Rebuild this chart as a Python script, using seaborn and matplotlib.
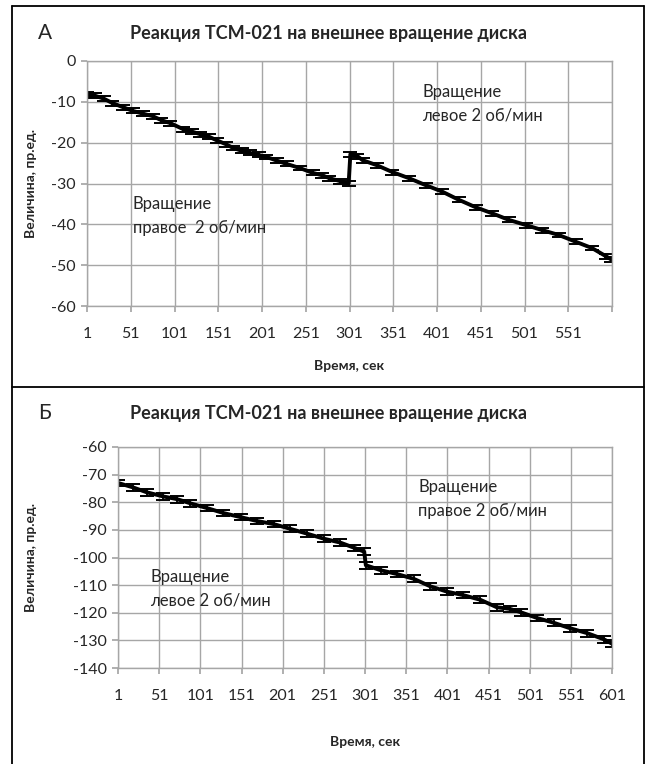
import matplotlib
import matplotlib.pyplot as plt
import seaborn as sns
from matplotlib.lines import Line2D

matplotlib.use("agg")
sns.set_theme(style="whitegrid")
plt.rcParams["font.family"] = ["Lato", "DejaVu Sans"]
plt.rcParams["axes.unicode_minus"] = False

# Panel A: time (s) and value
time_a = [1, 10, 20, 30, 42, 53, 65, 76, 86, 96, 111, 121, 130, 140, 149, 160, 168, 178, 187, 197,
          206, 218, 229, 244, 259, 270, 278, 290, 300, 302, 310, 316, 332, 350, 369, 388, 407, 426,
          445, 464, 483, 503, 521, 540, 560, 578, 594, 600]
value_a = [-8.2, -8.5, -9.2, -10.3, -11.3, -12.2, -12.9, -13.5, -14.5, -15.2, -16.7, -17.3, -17.9,
           -18.5, -19.4, -20.4, -21.3, -22.0, -22.5, -23.0, -23.5, -24.4, -25.2, -26.2, -27.4, -28.0,
           -28.7, -29.4, -30.0, -22.8, -23.3, -24.3, -25.5, -27.2, -28.7, -30.4, -32.0, -34.0, -35.8,
           -37.3, -38.9, -40.2, -41.4, -42.6, -44.3, -45.8, -47.8, -48.6]
err_a = 0.6

# Panel B
time_b = [1, 19, 36, 56, 73, 89, 109, 129, 150, 170, 190, 210, 231, 251, 271, 288, 300, 302, 320,
          340, 360, 380, 401, 420, 441, 461, 477, 490, 510, 530, 550, 571, 591, 601]
value_b = [-73.0, -74.6, -76.4, -77.9, -78.9, -80.4, -82.1, -83.9, -85.4, -86.8, -87.9, -89.6,
           -91.4, -93.2, -94.6, -96.5, -97.9, -102.8, -104.6, -106.0, -107.7, -110.4, -112.4,
           -113.6, -115.3, -118.0, -118.6, -119.8, -121.9, -123.6, -125.6, -127.4, -129.6, -131.2]
err_b = 1.2

xticks = list(range(1, 602, 50))
title = "Реакция ТСМ-021 на внешнее вращение диска"

fig = plt.figure(figsize=(6.48, 7.64), dpi=100)
W, H = 648, 764


def px(x0, y0, x1, y1):
    # pixel box -> figure rect
    return [x0 / W, 1 - y1 / H, (x1 - x0) / W, (y1 - y0) / H]


def draw_panel(rect, t, v, err, ylim, yticks, xlabels):
    ax = fig.add_axes(rect)
    sns.lineplot(x=t, y=v, ax=ax, color="black", linewidth=2.8)
    ax.errorbar(t, v, yerr=err, fmt="none", ecolor="black", elinewidth=1.3, capsize=5, capthick=1.4)
    ax.set_xlim(1, 601)
    ax.set_ylim(*ylim)
    ax.set_xticks(xticks)
    ax.set_xticklabels(xlabels)
    ax.set_yticks(yticks)
    ax.grid(True, color="#a6a6a6", linewidth=1)
    ax.set_facecolor("white")
    for s in ax.spines.values():
        s.set_color("#a6a6a6")
        s.set_linewidth(1)
    ax.tick_params(axis="both", length=4, color="#a6a6a6", labelsize=11.5)
    ax.tick_params(axis="x", direction="out", bottom=True, pad=11)
    ax.tick_params(axis="y", direction="out", left=True, pad=4)
    ax.set_xlabel("Время, сек", fontsize=10, fontweight="bold", labelpad=14)
    ax.set_ylabel("Величина, пр.ед.", fontsize=10, fontweight="bold")
    return ax


ax_a = draw_panel(px(87, 61, 612, 306), time_a, value_a, err_a, (-60, 0), range(-60, 1, 10),
                  [str(x) for x in xticks[:-1]] + [""])
ax_a.yaxis.set_label_coords(-0.095, 0.5)
ax_b = draw_panel(px(118, 447, 612, 668), time_b, value_b, err_b, (-140, -60), range(-140, -59, 10),
                  [str(x) for x in xticks])
ax_b.yaxis.set_label_coords(-0.164, 0.5)
ax_b.xaxis.labelpad = 24

fig.text(328 / W, 1 - 33 / H, title, ha="center", va="center", fontsize=13, fontweight="bold")
fig.text(328 / W, 1 - 413 / H, title, ha="center", va="center", fontsize=13, fontweight="bold")
fig.text(38 / W, 1 - 33 / H, "А", ha="left", va="center", fontsize=15)
fig.text(38 / W, 1 - 413 / H, "Б", ha="left", va="center", fontsize=15)

note = dict(ha="left", va="center", fontsize=12, linespacing=1.55)
fig.text(133 / W, 1 - 216 / H, "Вращение\nправое  2 об/мин", **note)
fig.text(422 / W, 1 - 104 / H, "Вращение\nлевое 2 об/мин", **note)
fig.text(418 / W, 1 - 499 / H, "Вращение\nправое 2 об/мин", **note)
fig.text(150 / W, 1 - 589 / H, "Вращение\nлевое 2 об/мин", **note)

# panel frames
for xs, ys in [([12, 644], [6, 6]), ([12, 644], [387, 387]), ([12, 12], [6, 764]), ([644, 644], [6, 764])]:
    fig.add_artist(Line2D([x / W for x in xs], [1 - y / H for y in ys], color="black", linewidth=1.3))

fig.savefig("out.png", dpi=100)
